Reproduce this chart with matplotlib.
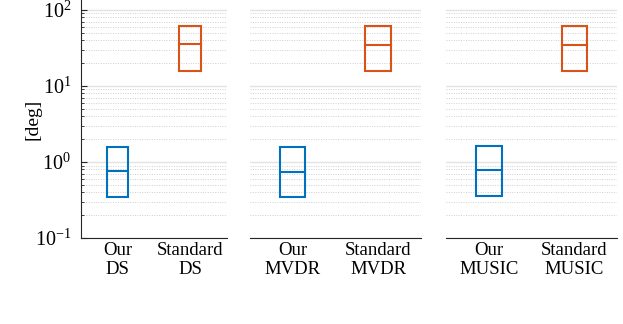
import numpy as np
import matplotlib
matplotlib.use("Agg")
import matplotlib.pyplot as plt
from matplotlib.patches import Rectangle
from matplotlib.ticker import LogLocator, NullFormatter

plt.rcParams['font.family'] = ['Liberation Serif', 'DejaVu Serif']
plt.rcParams['mathtext.fontset'] = 'custom'
plt.rcParams['mathtext.rm'] = 'Liberation Serif'
plt.rcParams['mathtext.it'] = 'Liberation Serif:italic'

methods = ['DS', 'MVDR', 'MUSIC']
# box stats per method: (low, median, high) in degrees
ours_low = [0.35, 0.35, 0.353]
ours_med = [0.76, 0.75, 0.78]
ours_high = [1.59, 1.58, 1.64]
std_low = [15.7, 15.7, 15.7]
std_med = [35.3, 35.0, 35.0]
std_high = [61.5, 61.5, 61.0]

blue = '#0072BD'
orange = '#D95319'
box_w = 0.3

fig = plt.figure(figsize=(6.23, 3.24), dpi=100)
positions = [(0.130, 0.234), (0.401, 0.2745), (0.716, 0.2745)]


def draw_box(ax, x, lo, med, hi, color):
    ax.add_patch(Rectangle((x - box_w / 2, lo), box_w, hi - lo, fill=False,
                           edgecolor=color, lw=1.5, zorder=3))
    ax.plot([x - box_w / 2, x + box_w / 2], [med, med], color=color, lw=1.5, zorder=3)


for i, m in enumerate(methods):
    left, width = positions[i]
    ax = fig.add_axes([left, 0.265, width, 0.735])
    ax.set_yscale('log')
    ax.set_ylim(0.1, 135)
    ax.set_xlim(0.5, 2.5)
    draw_box(ax, 1, ours_low[i], ours_med[i], ours_high[i], blue)
    draw_box(ax, 2, std_low[i], std_med[i], std_high[i], orange)

    ax.yaxis.set_major_locator(LogLocator(base=10, numticks=10))
    ax.yaxis.set_minor_locator(LogLocator(base=10, subs=np.arange(2, 10), numticks=20))
    ax.yaxis.set_minor_formatter(NullFormatter())
    ax.grid(True, which='major', axis='y', color='#e3e3e3', lw=1.0, ls='-')
    ax.grid(True, which='minor', axis='y', color='#cfcfcf', lw=0.7, ls=(0, (1, 1.5)))
    ax.set_axisbelow(True)

    ax.set_xticks([1, 2])
    ax.set_xticklabels(['Our\n' + m, 'Standard\n' + m], fontsize=13.5, linespacing=1.1)
    ax.tick_params(axis='x', length=0, pad=3)
    for s in ['top', 'right']:
        ax.spines[s].set_visible(False)
    ax.spines['bottom'].set_color('#262626')
    if i == 0:
        ax.spines['left'].set_color('#262626')
        ax.tick_params(axis='y', which='both', direction='in', labelsize=14.5,
                       color='#262626', pad=7)
        ax.tick_params(axis='y', which='major', length=4)
        ax.tick_params(axis='y', which='minor', length=2)
        ax.set_ylabel('[deg]', fontsize=14)
        ax.yaxis.set_label_coords(-0.27, 0.5)
    else:
        ax.spines['left'].set_visible(False)
        ax.tick_params(axis='y', which='both', length=0, labelleft=False)

fig.savefig('out.png', dpi=100)
